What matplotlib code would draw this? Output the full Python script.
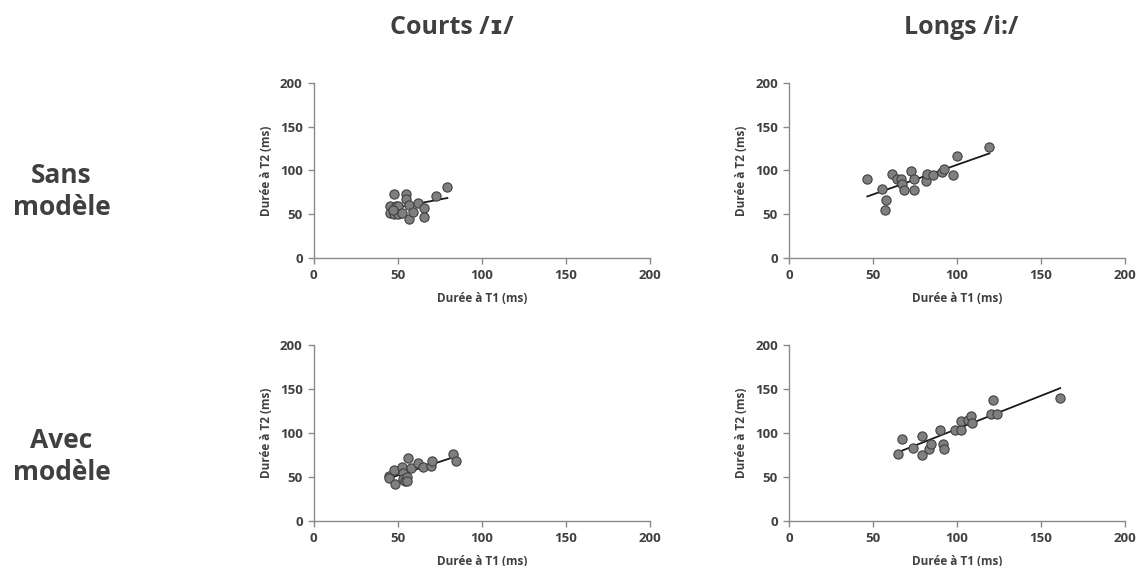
import matplotlib
matplotlib.use("Agg")
import matplotlib.pyplot as plt

plt.rcParams['font.family'] = ['Open Sans', 'DejaVu Sans']

# Courts /ɪ/ - sans modèle
court_sans_t1 = [45.1, 47.5, 49.1, 50.4, 45.1, 47.5, 50.4, 52.4, 54.6, 55.0,
                 56.6, 56.4, 59.0, 62.0, 65.3, 65.3, 72.5, 79.2, 47.0]
court_sans_t2 = [59.3, 72.6, 59.3, 59.3, 51.7, 49.8, 49.8, 51.7, 73.4, 66.9,
                 60.5, 44.5, 52.9, 62.4, 57.4, 46.4, 70.7, 80.6, 55.0]
court_sans_fit_x = [45.0, 79.5]
court_sans_fit_y = [56.0, 68.5]

# Longs /i:/ - sans modèle
long_sans_t1 = [46.6, 55.6, 57.4, 57.0, 61.4, 64.3, 66.7, 67.5, 68.5, 72.7,
                74.5, 74.3, 81.3, 82.3, 85.5, 91.0, 92.0, 97.8, 99.8, 118.9]
long_sans_t2 = [90.5, 79.1, 66.5, 54.4, 95.4, 89.7, 89.7, 84.0, 77.2, 98.9,
                90.5, 77.2, 87.8, 96.2, 94.7, 98.5, 101.9, 94.7, 116.0, 126.6]
long_sans_fit_x = [46.6, 119.3]
long_sans_fit_y = [70.3, 119.4]

# Courts /ɪ/ - avec modèle
court_avec_t1 = [45.0, 45.0, 47.9, 48.3, 52.5, 52.9, 52.9, 54.3, 55.8, 55.4,
                 55.2, 57.8, 62.0, 65.1, 69.7, 70.3, 82.6, 84.6]
court_avec_t2 = [51.3, 48.2, 57.5, 41.9, 61.4, 54.4, 47.0, 45.4, 71.1, 50.1,
                 45.4, 59.8, 66.0, 61.7, 62.5, 68.3, 76.1, 67.6]
court_avec_fit_x = [45.0, 85.5]
court_avec_fit_y = [48.5, 73.8]

# Longs /i:/ - avec modèle
long_avec_t1 = [64.9, 67.1, 73.7, 79.1, 79.1, 83.1, 84.3, 90.0, 91.8, 92.4,
                98.6, 102.6, 102.6, 106.4, 108.4, 109.0, 120.3, 121.3, 123.9, 161.0]
long_avec_t2 = [75.7, 93.2, 83.1, 96.7, 75.3, 82.3, 87.6, 102.9, 87.4, 81.6,
                103.3, 102.9, 113.8, 115.3, 119.6, 111.8, 121.9, 137.8, 121.6, 139.8]
long_avec_fit_x = [64.9, 161.4]
long_avec_fit_y = [78.1, 151.1]

col_titles = ["Courts /ɪ/", "Longs /i:/"]
row_titles = ["Sans\nmodèle", "Avec\nmodèle"]
ticks = [0, 50, 100, 150, 200]

panels = [
    (court_sans_t1, court_sans_t2, court_sans_fit_x, court_sans_fit_y),
    (long_sans_t1, long_sans_t2, long_sans_fit_x, long_sans_fit_y),
    (court_avec_t1, court_avec_t2, court_avec_fit_x, court_avec_fit_y),
    (long_avec_t1, long_avec_t2, long_avec_fit_x, long_avec_fit_y),
]

# axes boxes in figure fraction (left, bottom, width, height)
lefts = [0.276, 0.694]
bottoms = [0.544, 0.080]
w, h = 0.2955, 0.310

# title anchors
col_title_x = [0.397, 0.845]
col_title_y = 0.951
row_title_x = 0.054
row_title_y = [0.662, 0.193]

text_col = "#404040"
axis_col = "#8a8a8a"

fig = plt.figure(figsize=(11.37, 5.66), dpi=100)

for i, (t1, t2, fx, fy) in enumerate(panels):
    r, c = divmod(i, 2)
    ax = fig.add_axes([lefts[c], bottoms[r], w, h])
    ax.scatter(t1, t2, s=44, facecolor="#7f7f7f", edgecolor="#404040",
               linewidth=0.8, zorder=3)
    ax.plot(fx, fy, color="#1a1a1a", linewidth=1.3, zorder=2)
    ax.set_xlim(0, 200)
    ax.set_ylim(0, 200)
    ax.set_xticks(ticks)
    ax.set_yticks(ticks)
    for side in ["top", "right"]:
        ax.spines[side].set_visible(False)
    for side in ["left", "bottom"]:
        ax.spines[side].set_color(axis_col)
        ax.spines[side].set_linewidth(1.0)
    ax.tick_params(direction="out", length=4, width=1.0, color=axis_col,
                   labelsize=9.5, labelcolor=text_col, pad=4)
    for lab in ax.get_xticklabels() + ax.get_yticklabels():
        lab.set_fontweight("bold")
    ax.set_xlabel("Durée à T1 (ms)", fontsize=8.5, fontweight="bold",
                  color=text_col, labelpad=7)
    ax.set_ylabel("Durée à T2 (ms)", fontsize=8.5, fontweight="bold",
                  color=text_col, labelpad=5)

for c, title in enumerate(col_titles):
    fig.text(col_title_x[c], col_title_y, title, ha="center", va="center",
             fontsize=18, fontweight="bold", color=text_col)

for r, title in enumerate(row_titles):
    fig.text(row_title_x, row_title_y[r], title, ha="center", va="center",
             fontsize=19, fontweight="bold", color=text_col, linespacing=1.25)

fig.savefig("out.png", dpi=100)
